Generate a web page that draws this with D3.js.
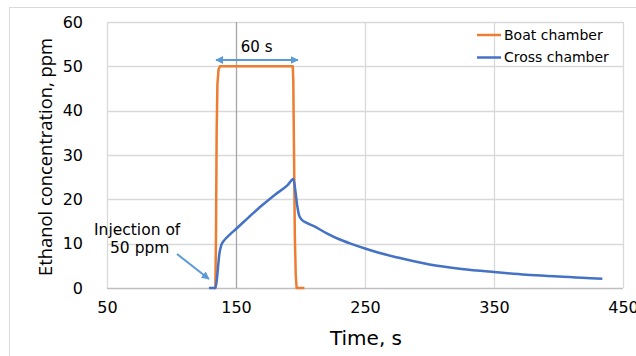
<!DOCTYPE html>
<html>
<head>
<meta charset="utf-8">
<script src="https://cdn.jsdelivr.net/npm/d3@7"></script>
<style>
  body { margin: 0; background: #fff; }
  text { font-family: "DejaVu Sans", sans-serif; fill: #000; }
</style>
</head>
<body>
<svg></svg>
<script>
const width = 636;
const height = 356;
const margin = {top: 22, right: 13, bottom: 68, left: 107};

// time (s), concentration (ppm)
const boatTime = [133, 134, 134.5, 135, 135.6, 136.5, 137.5, 194, 194.4, 195, 195.6, 196.3, 197, 203];
const boatPpm  = [0, 0, 12, 35, 46, 49.3, 50, 50, 47, 30, 12, 3, 0, 0];

const crossTime = [129, 134, 135, 136, 137, 138.5, 141, 145, 150, 160, 170, 180, 190, 194.5, 196, 197.5, 199, 201, 204, 210, 220, 230, 240, 250, 260, 275, 300, 325, 350, 375, 400, 425, 434];
const crossPpm  = [0, 0, 1.5, 4.5, 7.5, 9.6, 10.8, 12, 13.3, 16, 18.6, 21, 23.2, 24.6, 22, 18.5, 16.3, 15.4, 14.8, 14, 12.4, 11, 9.9, 8.9, 8, 6.9, 5.3, 4.3, 3.6, 3.0, 2.6, 2.2, 2.1];

const xTicks = [50, 150, 250, 350, 450];
const yTicks = [0, 10, 20, 30, 40, 50, 60];

const seriesNames = ['Boat chamber', 'Cross chamber'];
const seriesColors = ['#ed7d31', '#4472c4'];

const boatData = boatTime.map((t, i) => ({t: t, v: boatPpm[i]}));
const crossData = crossTime.map((t, i) => ({t: t, v: crossPpm[i]}));

const xScale = d3.scaleLinear()
                 .domain([50, 450])
                 .range([margin.left, width - margin.right]);

const yScale = d3.scaleLinear()
                 .domain([0, 60])
                 .range([height - margin.bottom, margin.top]);

const svg = d3.select('svg')
              .attr('width', width)
              .attr('height', height);

// outer chart frame
svg.append('rect')
  .attr('x', 9.5)
  .attr('y', 7.5)
  .attr('width', width + 10)
  .attr('height', height + 10)
  .attr('fill', 'none')
  .attr('stroke', '#d9d9d9');

// grid
svg.append('g')
  .selectAll('line')
  .data(yTicks)
  .enter()
  .append('line')
    .attr('x1', margin.left)
    .attr('x2', width - margin.right)
    .attr('y1', d => Math.round(yScale(d)) + 0.5)
    .attr('y2', d => Math.round(yScale(d)) + 0.5)
    .attr('stroke', d => d === 0 ? '#bfbfbf' : '#d9d9d9')
    .attr('stroke-width', 1.3);

svg.append('g')
  .selectAll('line')
  .data(xTicks)
  .enter()
  .append('line')
    .attr('x1', d => Math.round(xScale(d)) + 0.5)
    .attr('x2', d => Math.round(xScale(d)) + 0.5)
    .attr('y1', margin.top)
    .attr('y2', height - margin.bottom)
    .attr('stroke', (d, i) => i === 1 ? '#a6a6a6' : '#d9d9d9')
    .attr('stroke-width', 1.3);

// axes labels
const xAxis = svg.append('g')
  .attr('transform', 'translate(0,' + (height - margin.bottom) + ')')
  .call(d3.axisBottom(xScale).tickValues(xTicks).tickSize(0).tickPadding(14));
xAxis.select('.domain').remove();
xAxis.selectAll('text').style('font-size', '16px').attr('fill', '#000');

const yAxis = svg.append('g')
  .attr('transform', 'translate(' + (margin.left - 14) + ',0)')
  .call(d3.axisLeft(yScale).tickValues(yTicks).tickSize(0).tickPadding(10));
yAxis.select('.domain').remove();
yAxis.selectAll('text').style('font-size', '16px').attr('fill', '#000');

svg.append('text')
  .text('Time, s')
  .style('text-anchor', 'middle')
  .style('font-size', '20px')
  .attr('x', 366)
  .attr('y', 345);

svg.append('text')
  .text('Ethanol concentration, ppm')
  .style('text-anchor', 'middle')
  .style('font-size', '19px')
  .style('font-family', '"Open Sans", sans-serif')
  .attr('textLength', 238)
  .attr('lengthAdjust', 'spacingAndGlyphs')
  .attr('x', -157)
  .attr('y', 52)
  .attr('transform', 'rotate(-90)');

// lines
const line = d3.line()
  .x(d => xScale(d.t))
  .y(d => yScale(d.v))
  .curve(d3.curveMonotoneX);

svg.append('path')
  .datum(boatData)
  .attr('d', d3.line().x(d => xScale(d.t)).y(d => yScale(d.v)))
  .attr('fill', 'none')
  .attr('stroke', seriesColors[0])
  .attr('stroke-width', 2.5)
  .attr('stroke-linejoin', 'round');

svg.append('path')
  .datum(crossData)
  .attr('d', line)
  .attr('fill', 'none')
  .attr('stroke', seriesColors[1])
  .attr('stroke-width', 2.5)
  .attr('stroke-linejoin', 'round');

// annotations
const defs = svg.append('defs');
defs.append('marker')
  .attr('id', 'arrow')
  .attr('viewBox', '0 0 10 10')
  .attr('refX', 9)
  .attr('refY', 5)
  .attr('markerWidth', 4)
  .attr('markerHeight', 4)
  .attr('orient', 'auto-start-reverse')
  .append('path')
    .attr('d', 'M0,0 L10,5 L0,10 z')
    .attr('fill', '#5b9bd5');

svg.append('line')
  .attr('x1', xScale(134.5))
  .attr('x2', xScale(198))
  .attr('y1', 60)
  .attr('y2', 60)
  .attr('stroke', '#5b9bd5')
  .attr('stroke-width', 2)
  .attr('marker-start', 'url(#arrow)')
  .attr('marker-end', 'url(#arrow)');

svg.append('text')
  .text('60 s')
  .style('text-anchor', 'middle')
  .style('font-size', '15px')
  .attr('x', xScale(166))
  .attr('y', 52);

svg.append('text')
  .text('Injection of')
  .style('font-size', '15.5px')
  .attr('x', 94)
  .attr('y', 235);

svg.append('text')
  .text('50 ppm')
  .style('font-size', '15.5px')
  .attr('x', 110)
  .attr('y', 253);

svg.append('line')
  .attr('x1', 177)
  .attr('y1', 254)
  .attr('x2', xScale(129))
  .attr('y2', 279)
  .attr('stroke', '#5b9bd5')
  .attr('stroke-width', 2)
  .attr('marker-end', 'url(#arrow)');

// legend
const legend = svg.append('g')
  .selectAll('g')
  .data(seriesNames)
  .enter()
  .append('g')
    .attr('transform', (d, i) => 'translate(477,' + (35 + i * 22.5) + ')');

legend.append('line')
  .attr('x1', 0)
  .attr('x2', 24)
  .attr('stroke', (d, i) => seriesColors[i])
  .attr('stroke-width', 2.5);

legend.append('text')
  .text(d => d)
  .style('font-size', '14px')
  .attr('x', 27)
  .attr('dy', '0.35em');
</script>
</body>
</html>
